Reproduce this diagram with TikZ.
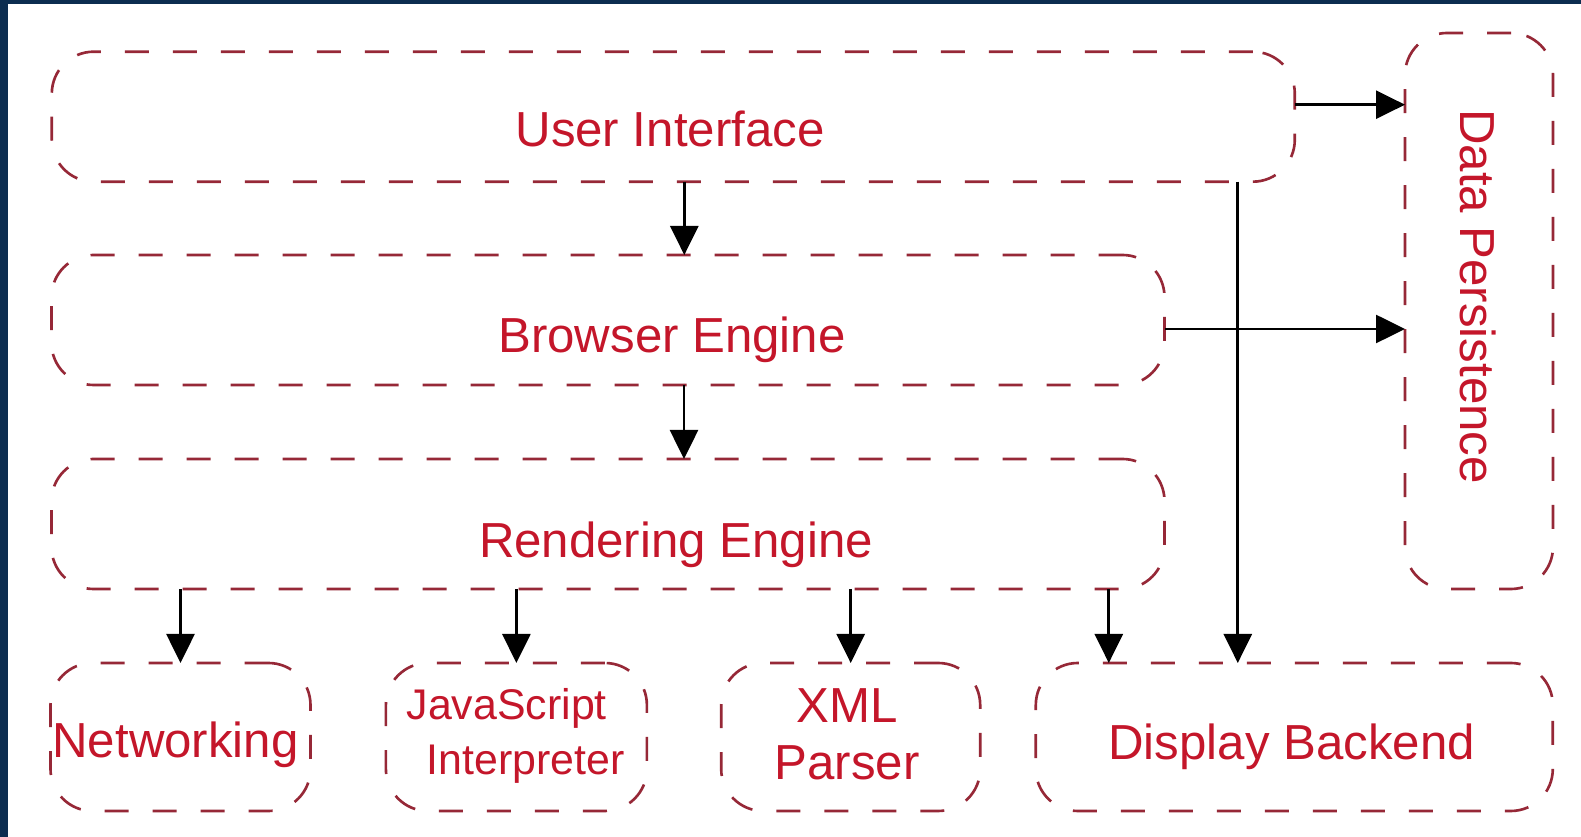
\documentclass[tikz,border=0pt]{standalone}
\usepackage{fontspec}
\setmainfont{Liberation Sans}
\usetikzlibrary{arrows.meta, positioning}
\definecolor{cNavy}{RGB}{12,45,80}
\definecolor{cDash}{RGB}{150,40,55}
\definecolor{cLabel}{RGB}{196,22,42}
\tikzset{
	layer/.style    ={rectangle, rounded corners=4.2mm, draw=cDash, line width=0.75pt, dash pattern=on 2.4mm off 2.4mm, inner sep=0pt, outer sep=0pt},
	lbl/.style      ={text=cLabel, inner sep=0pt, font=\fontsize{14}{16.3}\selectfont},
	flowarrow/.style={-{Triangle[length=2.9mm, width=2.8mm]}, line width=0.75pt},
}

\begin{document}
\begin{tikzpicture}[node distance=0.75cm]
	% frame
	\fill[cNavy] (0,0) rectangle (15.81,8.37);
	\fill[white] (0.083,0) rectangle (15.81,8.33);
	% layers
	\node[layer, minimum width=12.43cm, minimum height=1.30cm] (ui) at (6.733,7.203) {};
	\node[layer, minimum width=11.13cm, minimum height=1.30cm] (be) at (6.08,5.17) {};
	\node[layer, minimum width=11.13cm, minimum height=1.30cm] (re) at (6.08,3.13) {};
	\node[layer, minimum width=1.48cm, minimum height=5.56cm] (dp) at (14.79,5.26) {};
	\node[layer, minimum width=2.60cm, minimum height=1.48cm] (net) at (1.805,1.00) {};
	\node[layer, minimum width=2.61cm, minimum height=1.48cm, right=0.754cm of net] (js) {};
	\node[layer, minimum width=2.59cm, minimum height=1.48cm, right=0.743cm of js] (xml) {};
	\node[layer, minimum width=5.17cm, minimum height=1.48cm, right=0.556cm of xml] (db) {};
	% labels
	\node[lbl, anchor=base] (uitxt) at (6.70,6.90) {User Interface};
	\node[lbl, anchor=base] (betxt) at (6.72,4.841) {Browser Engine};
	\node[lbl, anchor=base] (retxt) at (6.76,2.794) {Rendering Engine};
	\node[lbl, rotate=-90] (dptxt) at (14.78,5.405) {Data Persistence};
	\node[lbl, anchor=base] (nettxt) at (1.755,0.79) {Networking};
	\node[lbl, anchor=west, align=left, font=\fontsize{12.2}{15.8}\selectfont] (jstxt) at (4.06,1.01) {JavaScript\\\hspace{0.2cm}Interpreter};
	\node[lbl, align=center] (xmltxt) at (8.47,1.024) {XML\\Parser};
	\node[lbl, anchor=base] (dbtxt) at (12.916,0.777) {Display Backend};
	% connectors
	\coordinate (uiout) at ([yshift=0.12cm]ui.east);
	\coordinate (beout) at ([yshift=-0.09cm]be.east);
	\coordinate (dbin) at ([xshift=0.73cm]db.north west);
	\coordinate (dbtop) at ([xshift=2.02cm]db.north west);
	\draw[flowarrow] ([xshift=0.11cm]ui.south) -- ([xshift=0.11cm]ui.south |- be.north);
	\draw[flowarrow] ([xshift=0.76cm]be.south) -- ([xshift=0.76cm]re.north);
	\draw[flowarrow] (uiout) -- (uiout -| dp.west);
	\draw[flowarrow] (beout) -- (beout -| dp.west);
	\draw[flowarrow] (dbtop |- ui.south) -- (dbtop);
	\draw[flowarrow] (re.south -| net.north) -- (net.north);
	\draw[flowarrow] (re.south -| js.north) -- (js.north);
	\draw[flowarrow] (re.south -| xml.north) -- (xml.north);
	\draw[flowarrow] (dbin |- re.south) -- (dbin);
\end{tikzpicture}
\end{document}
